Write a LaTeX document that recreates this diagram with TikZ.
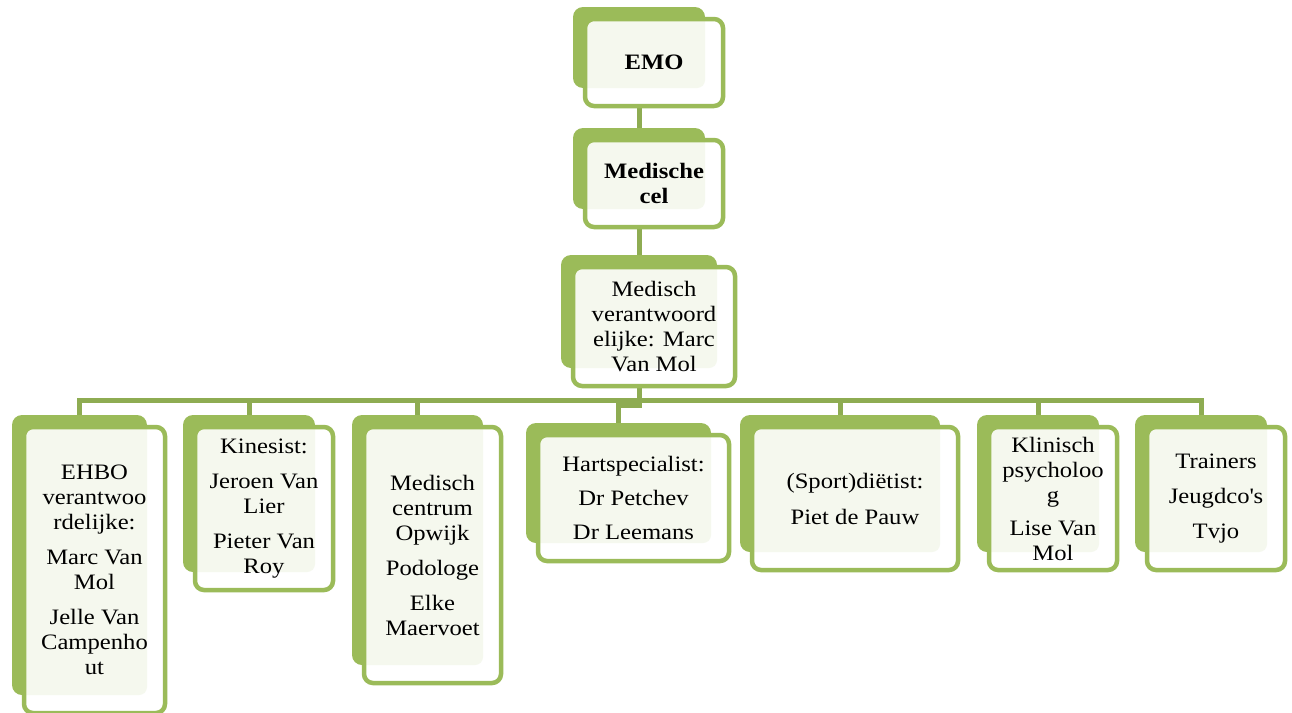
\documentclass[tikz,border=0pt]{standalone}
\usepackage{fontspec}
\setmainfont{Liberation Serif}[FakeStretch=1.12]
\definecolor{boxgreen}{rgb}{0.607843,0.733333,0.349020}
\definecolor{linkgreen}{rgb}{0.556863,0.674510,0.321569}
\definecolor{cardfill}{rgb}{0.960784,0.972549,0.933333}
\pgfdeclarelayer{background}
\pgfsetlayers{background,main}
\tikzset{
  card/.style={draw=boxgreen,line width=4.5pt,fill=white,rounded corners=9pt,
    outer sep=0pt,inner sep=0pt,align=center,font=\fontsize{22}{25}\selectfont,
    path picture={\fill[cardfill,rounded corners=8pt]
      ([shift={(-10pt,10pt)}]path picture bounding box.north west) rectangle
      ([shift={(-18pt,18pt)}]path picture bounding box.south east);}},
  cardback/.style={fill=boxgreen,rounded corners=10pt},
  link/.style={draw=linkgreen,line width=5pt}
}
\begin{document}
\begin{tikzpicture}[line join=miter,x=1pt,y=-1pt]
\useasboundingbox (0,0) rectangle (1292,712);
% top of the chart
\node[card,minimum width=138pt,minimum height=87pt] (emo) at (654,62.5) {\textbf{EMO}};
\node[card,minimum width=138pt,minimum height=87pt] (cel) at (654,183.5) {\textbf{Medische}\\\textbf{cel}};
\node[card,minimum width=162pt,minimum height=119pt] (mva) at (654,326.5) {Medisch\\verantwoord\\elijke: Marc\\Van Mol};
% second row
\node[card,minimum width=141pt,minimum height=286pt] (ehbo) at (94.5,570) {EHBO\\verantwoo\\rdelijke:\\[10pt]Marc Van\\Mol\\[10pt]Jelle Van\\Campenho\\ut};
\node[card,minimum width=138pt,minimum height=163pt] (kine) at (264,508.5) {Kinesist:\\[10pt]Jeroen Van\\Lier\\[10pt]Pieter Van\\Roy};
\node[card,minimum width=137pt,minimum height=256pt] (medc) at (432.5,555) {Medisch\\centrum\\Opwijk\\[10pt]Podologe\\[10pt]Elke\\Maervoet};
\node[card,minimum width=191pt,minimum height=126pt] (hart) at (633.5,498) {Hartspecialist:\\[9pt]Dr Petchev\\[9pt]Dr Leemans};
\node[card,minimum width=206pt,minimum height=143pt] (sport) at (855,498.5) {(Sport)diëtist:\\[11pt]Piet de Pauw};
\node[card,minimum width=128pt,minimum height=143pt] (klin) at (1053,498.5) {Klinisch\\psycholoo\\g\\[8pt]Lise Van\\Mol};
\node[card,minimum width=138pt,minimum height=143pt] (train) at (1216,498.5) {Trainers\\[10pt]Jeugdco\textquotesingle s\\[10pt]Tvjo};
\begin{pgfonlayer}{background}
\fill[white] (0,0) rectangle (1292,712);
\draw[link] ([xshift=-15pt]emo.south) -- ([xshift=-15pt]cel.north);
\draw[link] ([xshift=-15pt]cel.south) -- ([xshift=-15pt]mva.north);
\foreach \c in {ehbo,kine,medc,sport,klin,train}
  \draw[link] ([xshift=-15pt]mva.south) -- ++(0,14) -| ([xshift=-15pt,yshift=12pt]\c.north);
\draw[link] ([xshift=-15pt]mva.south) -- ++(0,19) -| ([xshift=-15pt,yshift=12pt]hart.north);
\foreach \c in {emo,cel,mva,ehbo,kine,medc,hart,sport,klin,train}
  \fill[cardback] ([shift={(-12pt,12pt)}]\c.north west) rectangle ([shift={(-18pt,18pt)}]\c.south east);
\end{pgfonlayer}
\end{tikzpicture}
\end{document}
